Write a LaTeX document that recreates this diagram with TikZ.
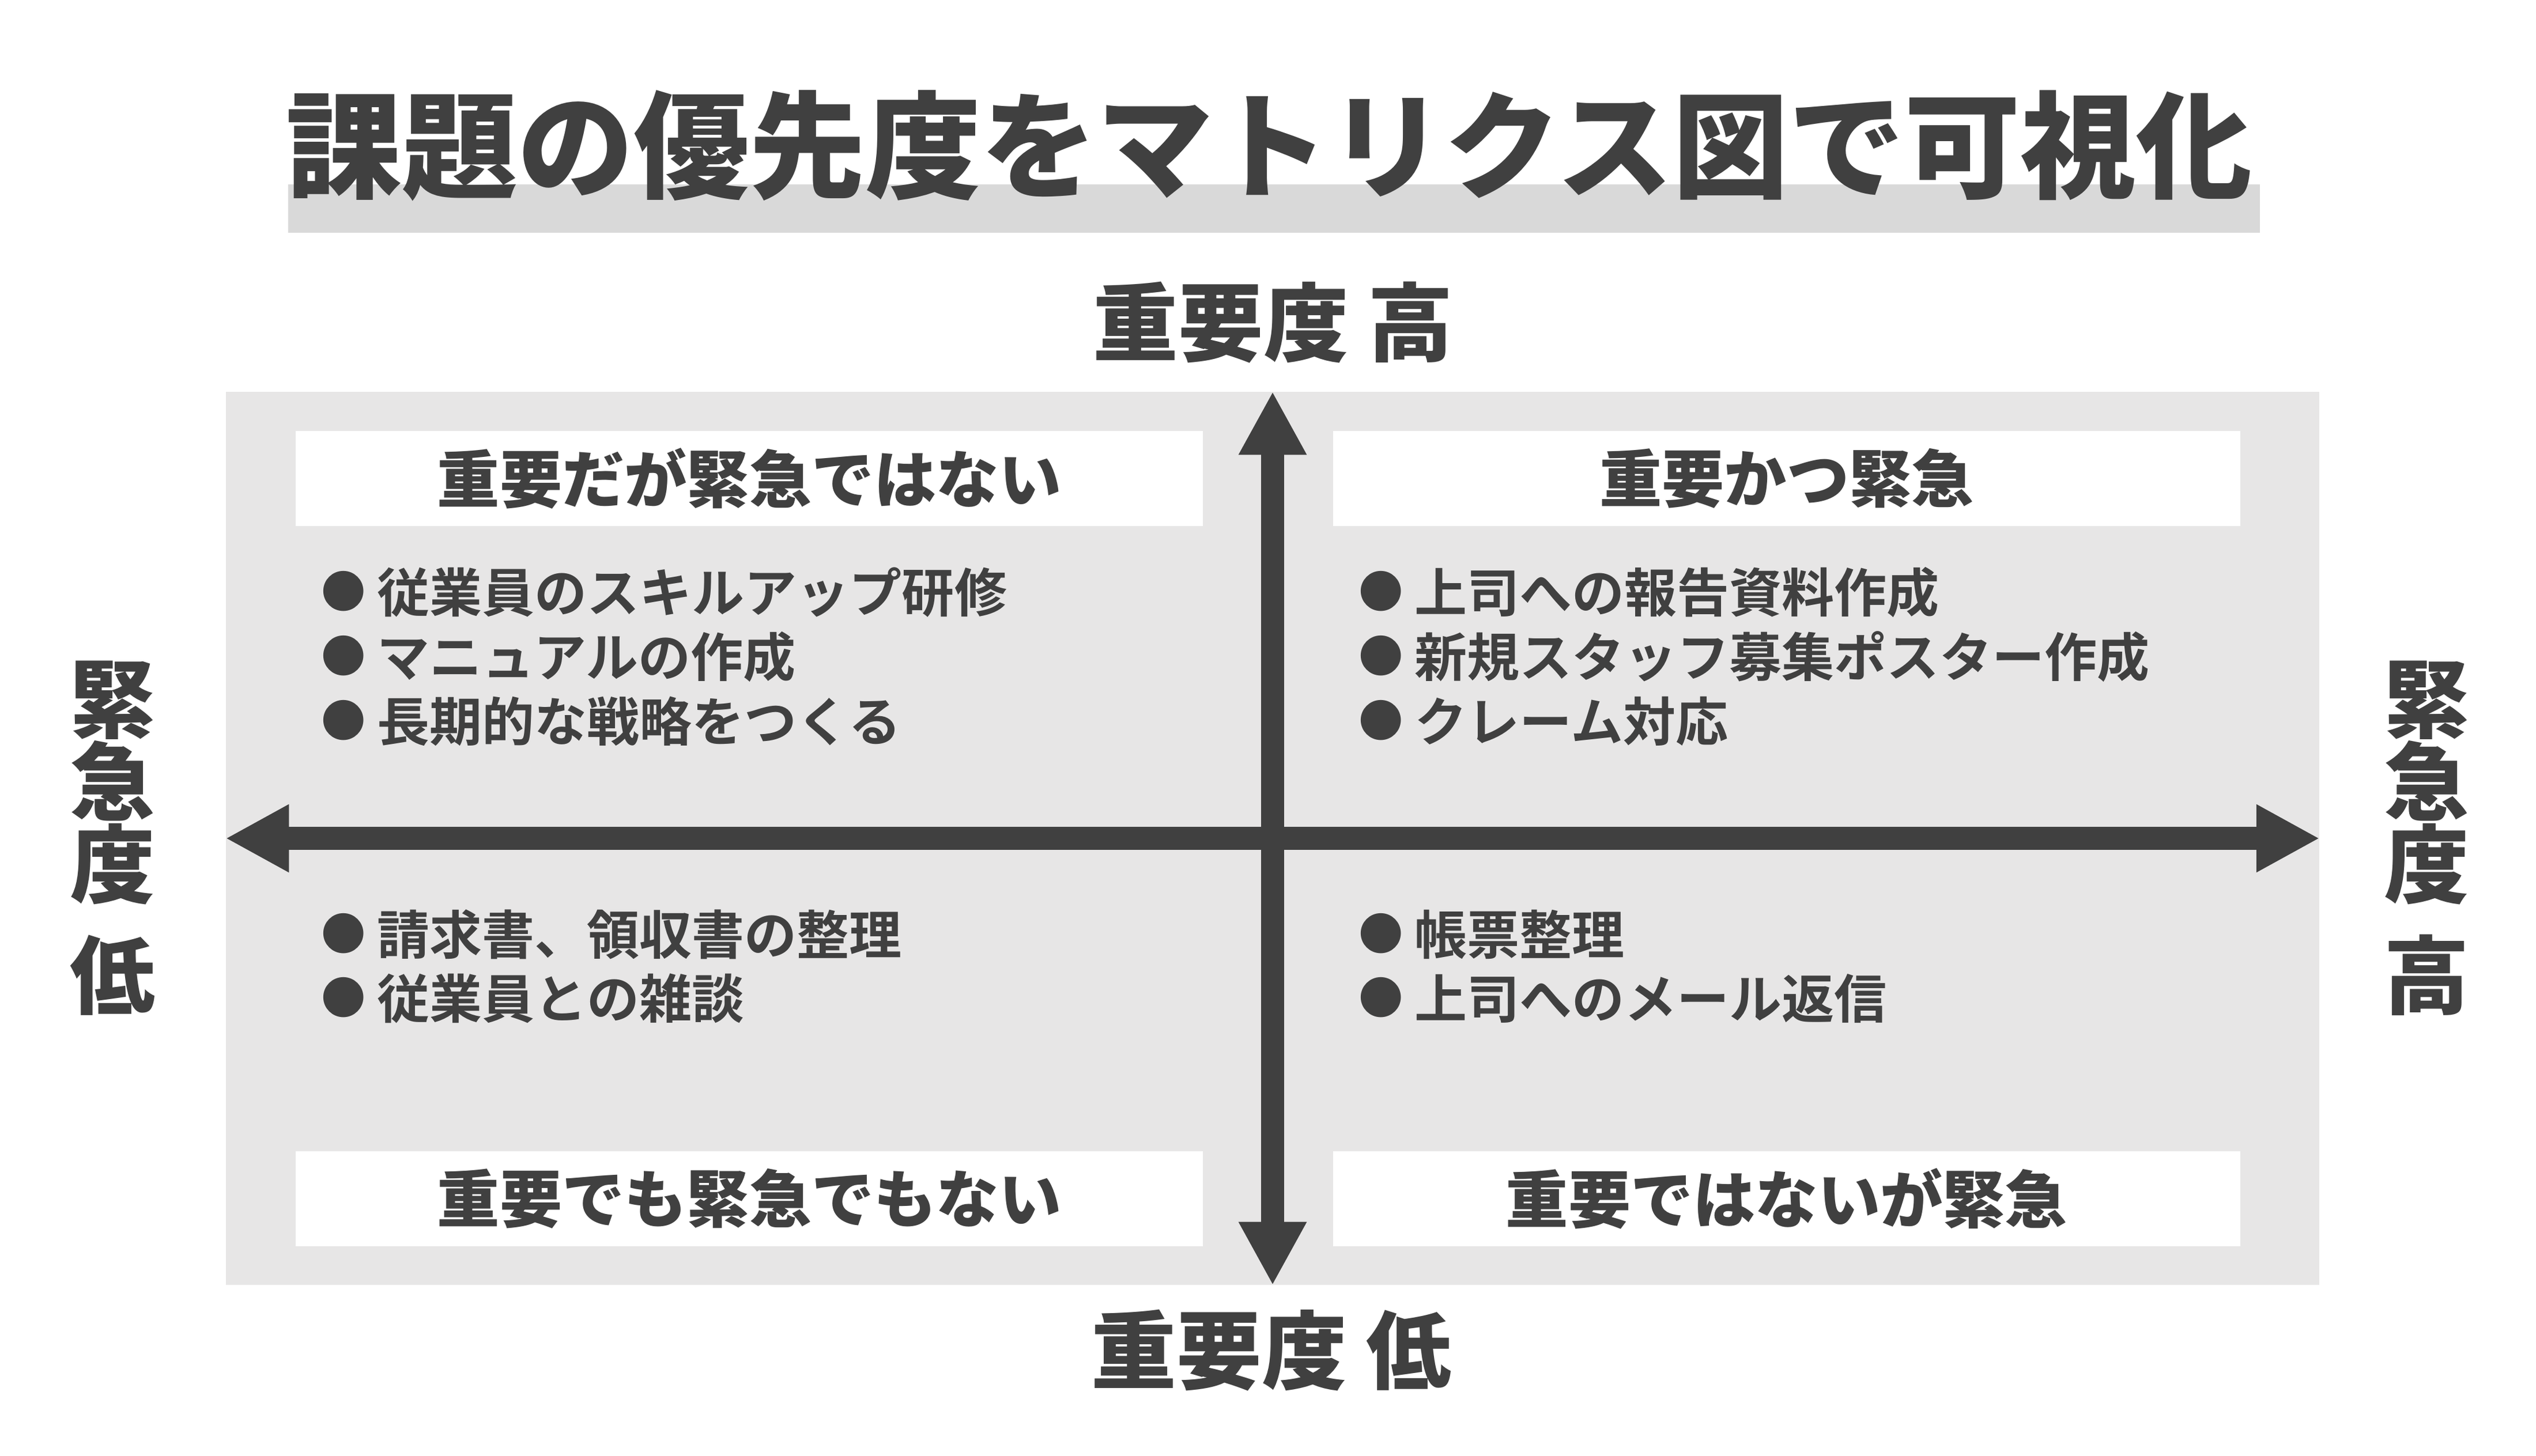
\documentclass[tikz,border=0pt]{standalone}
\usepackage{fontspec}
\usetikzlibrary{arrows.meta}
\newfontfamily\jpheavy{Noto Sans CJK JP Black}
\newfontfamily\jpbold{Noto Sans CJK JP Bold}
\definecolor{ink}{HTML}{404040}
\definecolor{panelgray}{HTML}{E7E6E6}
\definecolor{bargray}{HTML}{D9D9D9}
\newcommand{\dotitem}{\makebox[0.97cm][l]{\raisebox{0.07cm}{\fontsize{22}{22}\selectfont ●}}}
\tikzset{
  headbox/.style={fill=white, minimum width=15.74cm, minimum height=1.65cm, inner sep=0pt,
    text=ink, font=\jpheavy\fontsize{30.8}{36}\selectfont},
  item/.style={anchor=west, inner sep=0pt, text=ink, font=\jpbold\fontsize{25.9}{30}\selectfont},
  axislabel/.style={inner sep=0pt, text=ink, font=\jpheavy\fontsize{42}{40.7}\selectfont},
  axis/.style={draw=ink, line width=0.4cm,
    {Triangle[length=1.1cm,width=1.1cm]}-{Triangle[length=1.1cm,width=1.1cm]}},
}
\begin{document}
\begin{tikzpicture}
  \useasboundingbox (0,0) rectangle (44,-25.26);
  % title
  \node[fill=bargray, minimum width=34.21cm, minimum height=0.84cm, inner sep=0pt] (titlebar) at (22.105,-3.62) {};
  \node[inner sep=0pt, text=ink, font=\jpheavy\fontsize{57.2}{60}\selectfont] (title) at (22.02,-2.53) {課題の優先度をマトリクス図で可視化};
  % matrix
  \node[fill=panelgray, minimum width=36.32cm, minimum height=15.5cm, inner sep=0pt] (panel) at (22.08,-14.55) {};
  \draw[axis] (panel.west) -- (panel.east);
  \draw[axis] (panel.south) -- (panel.north);
  \node[axislabel] (imphigh) at (22.09,-5.60) {重要度 高};
  \node[axislabel] (implow) at (22.06,-23.44) {重要度 低};
  \node[axislabel, align=center] (urglow) at (1.95,-14.55) {緊\\急\\度\\[0.5cm]低};
  \node[axislabel, align=center] (urghigh) at (42.10,-14.55) {緊\\急\\度\\[0.5cm]高};
  % quadrant headers
  \node[headbox] (ulhead) at (13.00,-8.305) {重要だが緊急ではない};
  \node[headbox] (urhead) at (31.00,-8.305) {重要かつ緊急};
  \node[headbox] (llhead) at (13.00,-20.805) {重要でも緊急でもない};
  \node[headbox] (lrhead) at (31.00,-20.805) {重要ではないが緊急};
  % items
  \node[item] (ul1) at (5.57,-10.28) {\dotitem 従業員のスキルアップ研修};
  \node[item] (ul2) at (5.57,-11.40) {\dotitem マニュアルの作成};
  \node[item] (ul3) at (5.57,-12.52) {\dotitem 長期的な戦略をつくる};
  \node[item] (ur1) at (23.57,-10.28) {\dotitem 上司への報告資料作成};
  \node[item] (ur2) at (23.57,-11.40) {\dotitem 新規スタッフ募集ポスター作成};
  \node[item] (ur3) at (23.57,-12.52) {\dotitem クレーム対応};
  \node[item] (ll1) at (5.57,-16.22) {\dotitem 請求書、領収書の整理};
  \node[item] (ll2) at (5.57,-17.33) {\dotitem 従業員との雑談};
  \node[item] (lr1) at (23.57,-16.22) {\dotitem 帳票整理};
  \node[item] (lr2) at (23.57,-17.33) {\dotitem 上司へのメール返信};
\end{tikzpicture}
\end{document}
